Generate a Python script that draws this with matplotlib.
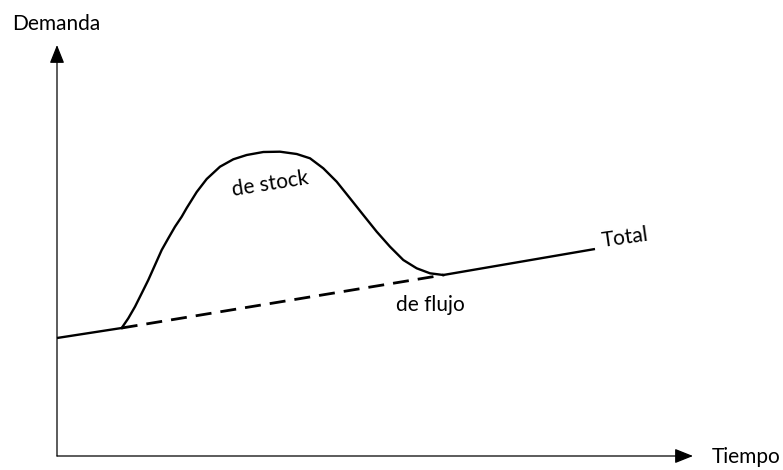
import matplotlib
matplotlib.use('Agg')
import matplotlib.pyplot as plt

# %% valores (tiempo, demanda)
tiempo_inicio = [0, 64.7]
demanda_inicio = [118, 128]

tiempo_stock = [64.7, 71.3, 78, 84.7, 91.3, 98, 104.7, 111.3, 118, 124.7, 129.7,
                139.7, 149.7, 163, 176.3, 189.7, 206.3, 223, 239.7, 253, 266.3,
                279.7, 293, 306.3, 319.7, 333, 346.3, 359.7, 373, 386.3]
demanda_stock = [128, 137.7, 149.3, 162.7, 176, 191, 206, 217.7, 229.3, 239.3, 248,
                 264, 277, 289.3, 296.7, 301, 304, 304.3, 302, 297.7, 287.7,
                 274.3, 257.7, 241, 224.3, 209.3, 196, 187.7, 182.7, 181]

tiempo_total = [386.3, 538]
demanda_total = [181, 207]

tiempo_flujo = [64.7, 386.3]
demanda_flujo = [128, 181]

# %%
plt.rcParams['font.family'] = ['Lato', 'DejaVu Sans']
plt.rcParams['lines.scale_dashes'] = False

fig = plt.figure(figsize=(7.83, 4.70), dpi=100)
ax = fig.add_axes([0, 0, 1, 1])
ax.set_xlim(-57, 726)
ax.set_ylim(-14, 456)
ax.axis('off')

lw = 1.7
ax.plot(tiempo_inicio, demanda_inicio, color='black', lw=lw, solid_capstyle='butt')
ax.plot(tiempo_stock, demanda_stock, color='black', lw=lw, solid_joinstyle='round')
ax.plot(tiempo_total, demanda_total, color='black', lw=lw, solid_capstyle='butt')
ax.plot(tiempo_flujo, demanda_flujo, color='black', lw=2.0, dashes=(11.5, 6.5))

# ejes con flechas
arrow = dict(arrowstyle='-|>,head_length=0.7,head_width=0.28', color='black', lw=0.9,
             mutation_scale=16, shrinkA=0, shrinkB=0)
ax.annotate('', xy=(0, 411), xytext=(0, 0), arrowprops=arrow)
ax.annotate('', xy=(636, 0), xytext=(0, 0), arrowprops=arrow)

fs = 15
ax.text(-1, 426, 'Demanda', fontsize=fs, ha='center', va='baseline')
ax.text(655, -7, 'Tiempo', fontsize=fs, ha='left', va='baseline')
ax.text(568, 218, 'Total', fontsize=fs, ha='center', va='center', rotation=8)
ax.text(213, 272, 'de stock', fontsize=fs, ha='center', va='center', rotation=9)
ax.text(373, 151, 'de flujo', fontsize=fs, ha='center', va='center')

plt.savefig('out.png', dpi=100)
